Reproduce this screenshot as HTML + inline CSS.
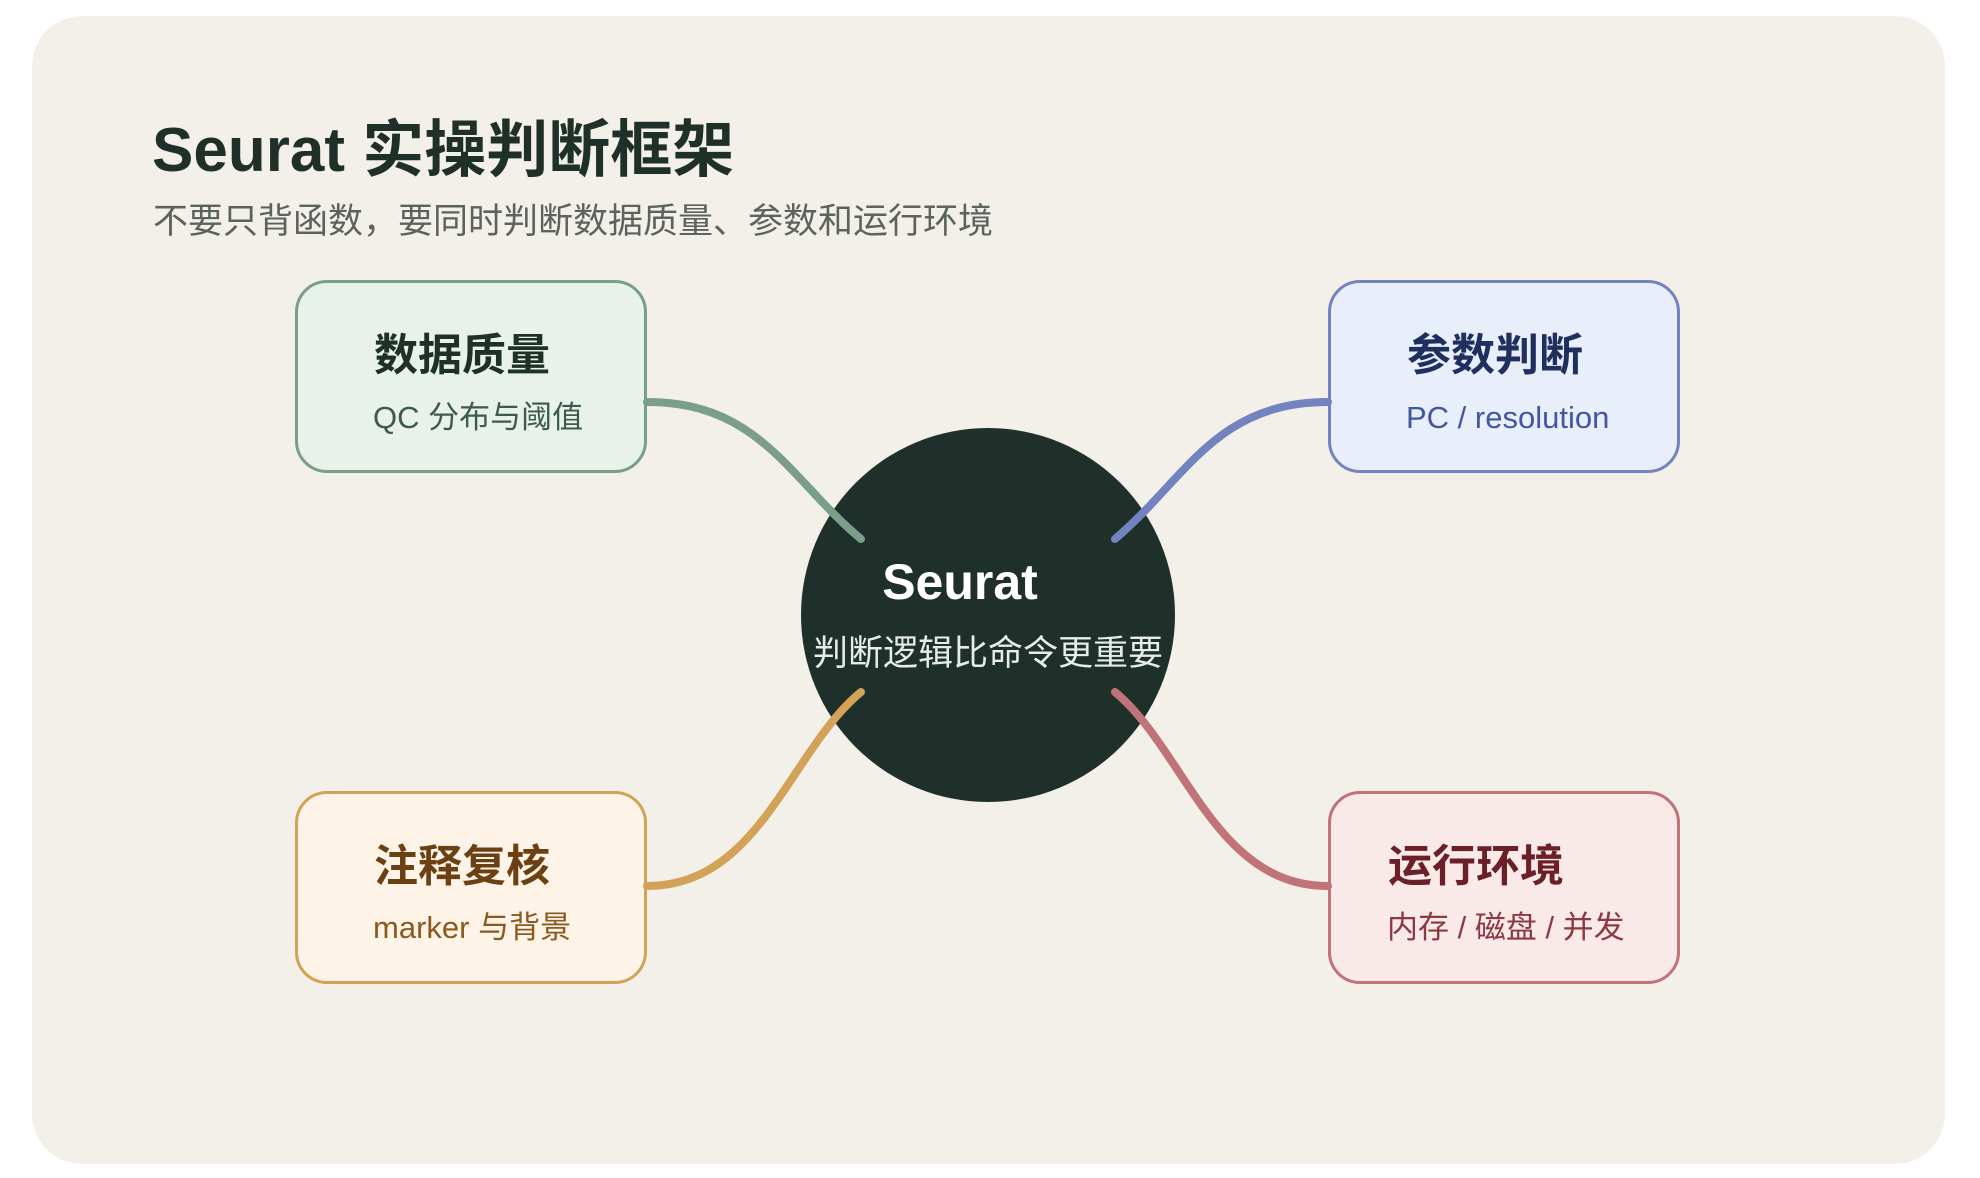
<!DOCTYPE html>
<html><head><meta charset="utf-8"><style>
html,body{margin:0;padding:0;background:#fff;}
body{width:1980px;height:1178px;position:relative;overflow:hidden;font-family:"Liberation Sans","Noto Sans CJK SC",sans-serif;}
.card{position:absolute;left:32px;top:16px;width:1913px;height:1148px;background:#f3f0e9;border-radius:50px;}
.t{position:absolute;white-space:nowrap;}
.box{position:absolute;width:352px;height:193px;border:3px solid;border-radius:32px;box-sizing:border-box;}
</style></head><body>
<div class="card"></div>
<div class="t" style="left:152px;top:116px;font-size:62px;font-weight:bold;color:#1f3029;line-height:70px;">Seurat 实操判断框架</div>
<div class="t" style="left:153px;top:200px;font-size:35px;color:#5c625e;line-height:44px;">不要只背函数，要同时判断数据质量、参数和运行环境</div>

<div class="box" style="left:295px;top:280px;background:#e8f1ea;border-color:#7a9e8a;"></div>
<div class="box" style="left:1328px;top:280px;background:#e9eefb;border-color:#7383c0;"></div>
<div class="box" style="left:295px;top:791px;background:#fdf3e6;border-color:#d1a257;"></div>
<div class="box" style="left:1328px;top:791px;background:#f9e9e9;border-color:#c07378;"></div>

<svg style="position:absolute;left:0;top:0" width="1980" height="1178">
<circle cx="988" cy="615" r="187" fill="#1f302a"/>
<g fill="none" stroke-width="8" stroke-linecap="round">
<path d="M647 402 C760 402 790 480 861 539" stroke="#7a9e8a"/>
<path d="M1328 402 C1215 402 1185 480 1115 539" stroke="#7383c0"/>
<path d="M647 886 C760 886 790 750 861 692" stroke="#d1a257"/>
<path d="M1328 886 C1215 886 1185 750 1115 692" stroke="#c07378"/>
</g>
</svg>
<div class="t" style="left:860px;top:552px;width:200px;text-align:center;font-size:50px;font-weight:bold;color:#fff;line-height:60px;">Seurat</div>
<div class="t" style="left:788px;top:632px;width:400px;text-align:center;font-size:35px;color:#e6ece8;line-height:44px;">判断逻辑比命令更重要</div>

<div class="t" style="left:374px;top:329px;font-size:44px;font-weight:bold;color:#1f3029;line-height:54px;">数据质量</div>
<div class="t" style="left:373px;top:398px;font-size:31px;color:#3d5a4a;line-height:40px;">QC 分布与阈值</div>

<div class="t" style="left:1407px;top:329px;font-size:44px;font-weight:bold;color:#1f2f5e;line-height:54px;">参数判断</div>
<div class="t" style="left:1406px;top:398px;font-size:31px;color:#4456a0;line-height:40px;">PC / resolution</div>

<div class="t" style="left:374px;top:840px;font-size:44px;font-weight:bold;color:#6b4113;line-height:54px;">注释复核</div>
<div class="t" style="left:373px;top:908px;font-size:31px;color:#8a5a20;line-height:40px;">marker 与背景</div>

<div class="t" style="left:1388px;top:840px;font-size:44px;font-weight:bold;color:#6b1f26;line-height:54px;">运行环境</div>
<div class="t" style="left:1387px;top:908px;font-size:31px;color:#8a3a40;line-height:40px;">内存 / 磁盘 / 并发</div>
</body></html>
